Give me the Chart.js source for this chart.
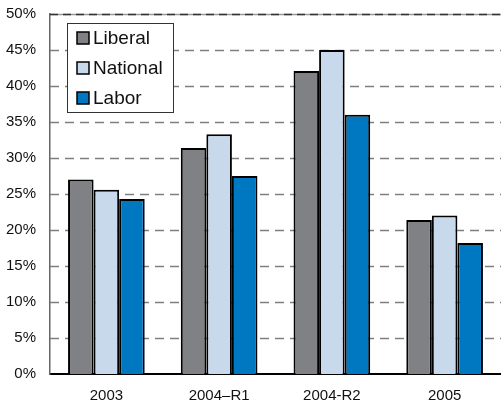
<!DOCTYPE html>
<html>
<head>
<meta charset="utf-8">
<script src="https://cdn.jsdelivr.net/npm/chart.js@4/dist/chart.umd.min.js"></script>
<style>
    html, body { margin: 0; padding: 0; background: #fff; }
    #wrap { width: 501px; height: 404px; position: relative; }
</style>
</head>
<body>
<div id="wrap"><canvas id="chart"></canvas></div>
<script>
/* ════════════════════════════════════════════════════════
   Vote share by party, per election round
   ════════════════════════════════════════════════════════ */
const categories = ['2003', '2004–R1', '2004-R2', '2005'];
const liberal  = [27.0, 31.4, 42.1, 21.4];
const national = [25.6, 33.3, 45.0, 22.0];
const labor    = [24.3, 27.5, 36.0, 18.2];
const yTicks   = [0, 5, 10, 15, 20, 25, 30, 35, 40, 45, 50];

const FONT = '"Liberation Sans", Arial, sans-serif';

// dashed horizontal guides, drawn under the bars
const dashedGrid = {
    id: 'dashedGrid',
    beforeDatasetsDraw(chart) {
        const { ctx, chartArea: a, scales: { y } } = chart;
        ctx.save();
        yTicks.forEach(v => {
            if (v === 0) return;
            const py = Math.round(y.getPixelForValue(v)) + 0.5;
            ctx.beginPath();
            ctx.moveTo(a.left, py);
            ctx.lineTo(a.right, py);
            if (v === yTicks[yTicks.length - 1]) {
                // top edge: grey rule with darker dashes over it
                ctx.setLineDash([]);
                ctx.strokeStyle = '#9a9a9a';
                ctx.lineWidth = 1.5;
                ctx.stroke();
                ctx.setLineDash([8, 5]);
                ctx.strokeStyle = '#333';
            } else {
                ctx.setLineDash([9, 6]);
                ctx.strokeStyle = '#7f7f7f';
            }
            ctx.lineWidth = 1.5;
            ctx.stroke();
        });
        ctx.restore();
    }
};

// boxed legend sitting inside the plot, top-left
const boxLegend = {
    id: 'boxLegend',
    afterDraw(chart) {
        const { ctx } = chart;
        const x = 67.5, y = 23.5, w = 106, h = 89;
        ctx.save();
        ctx.fillStyle = '#fff';
        ctx.fillRect(x, y, w, h);
        ctx.strokeStyle = '#333';
        ctx.lineWidth = 1;
        ctx.strokeRect(x, y, w, h);
        ctx.font = '19px ' + FONT;
        ctx.textBaseline = 'middle';
        chart.data.datasets.forEach((ds, i) => {
            const cy = 38 + i * 30;
            ctx.fillStyle = ds.backgroundColor;
            ctx.fillRect(77, cy - 6, 12, 12);
            ctx.strokeStyle = '#000';
            ctx.lineWidth = 1.5;
            ctx.strokeRect(77, cy - 6, 12, 12);
            ctx.fillStyle = '#111';
            ctx.fillText(ds.label, 93, cy + 1);
        });
        ctx.restore();
    }
};

const bar = (label, data, color) => ({
    label, data,
    backgroundColor: color,
    borderColor: '#000',
    borderWidth: 2,
    barPercentage: 1,
    categoryPercentage: 0.68
});

new Chart(document.getElementById('chart'), {
    type: 'bar',
    data: {
        labels: categories,
        datasets: [
            bar('Liberal', liberal, '#808185'),
            bar('National', national, '#c9d9ec'),
            bar('Labor', labor, '#0078c1')
        ]
    },
    options: {
        responsive: true,
        maintainAspectRatio: false,
        animation: false,
        layout: { padding: { top: 14, right: 0, left: 0, bottom: 0 } },
        plugins: { legend: { display: false }, tooltip: { enabled: false } },
        scales: {
            x: {
                grid: { display: false, drawTicks: false },
                border: { display: true, color: '#000', width: 2 },
                ticks: { color: '#111', font: { family: FONT, size: 15 }, padding: 13, maxRotation: 0 },
                afterFit(s) { s.height = 30; }
            },
            y: {
                min: 0, max: 50,
                grid: { display: false, drawTicks: false },
                border: { display: true, color: '#666', width: 1.5 },
                ticks: {
                    stepSize: 5,
                    color: '#111',
                    font: { family: FONT, size: 15 },
                    padding: 14,
                    callback: v => v + '%'
                },
                afterFit(s) {
                    // fixed gutter; the top/bottom label padding is handled by layout
                    s.width = 50;
                    s.paddingTop = 0;
                    s.paddingBottom = 0;
                }
            }
        }
    },
    plugins: [dashedGrid, boxLegend]
});
</script>
</body>
</html>
